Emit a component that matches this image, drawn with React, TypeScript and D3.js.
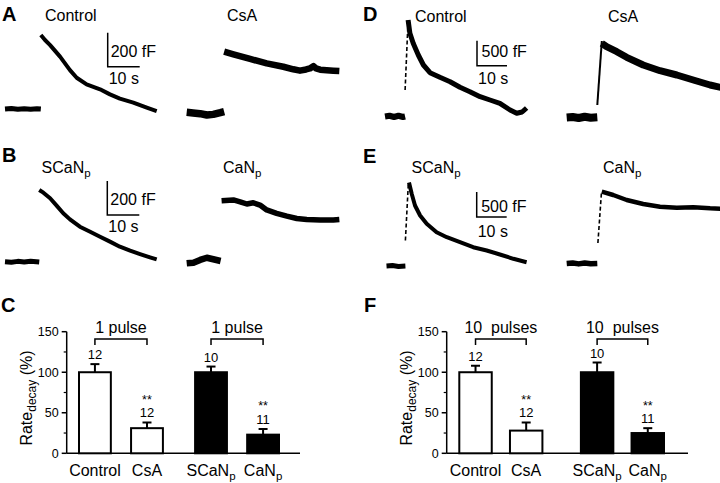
import React from "react";
import * as d3 from "d3";

// ---------- Capacitance traces: [time (s), ΔCm (fF)] ----------
// Panel A (1 pulse)
const aControlBase = [[0, 0], [2, 3], [4, -2], [6, 2], [8, -2], [10, 2], [11.2, 0]];
const aControlDecay = [[11.2, 435], [12.5, 406], [14.1, 376], [17.2, 308], [20.3, 229], [22.4, 184], [25.5, 145], [29.7, 116], [32.8, 86], [35.9, 61], [40.1, 37], [44.3, 8], [47.4, -12]];
const aCsABase = [[0, 4], [2, 0], [4.2, -4], [6.3, -12], [8.3, -8], [10.5, 2], [11.7, 8]];
const aCsADecay = [[11.7, 361], [14.6, 345], [19.8, 318], [25, 292], [30.2, 272], [33.3, 257], [35.4, 249], [37.3, 256], [38.5, 262], [39.6, 276], [40.4, 262], [41.7, 255], [45.8, 249], [47.7, 247]];
// Panel B (1 pulse)
const bSCaNBase = [[0, 0], [2, -3], [4, 2], [6, -2], [8, 3], [10.7, -2]];
const bSCaNDecay = [[10.7, 422], [12, 406], [14.1, 373], [16.2, 328], [18.2, 285], [20.3, 249], [23.4, 206], [26.6, 176], [29.7, 147], [32.8, 118], [35.9, 88], [39.1, 65], [42.2, 45], [45.3, 26], [47.4, 14]];
const bCaNBase = [[0, -2], [2.1, 2], [4.2, 18], [6.3, 31], [8.3, 22], [10.6, 12]];
const bCaNDecay = [[10.9, 366], [14.6, 371], [16.7, 360], [18.8, 347], [20.8, 354], [22.9, 341], [25, 312], [28.1, 292], [31.3, 276], [34.4, 262], [37.5, 256], [41.7, 253], [45.8, 253], [47.7, 256]];
// Panel D (10 pulses)
const dControlBase = [[0, 0], [1.5, 15], [3, -10], [4.5, 15], [6, -10], [6.7, 0]];
const dControlJump = [[6.7, 530], [7.7, 1930]];
const dControlDecay = [[7.7, 1930], [8.3, 1664], [9.4, 1464], [11.1, 1230], [12.8, 1030], [15, 876], [18.3, 784], [21.7, 696], [25, 584], [28.3, 496], [31.7, 396], [35, 330], [38.3, 264], [41.7, 130], [43.9, 64], [45.7, 90], [47.2, 170]];
const dCsABase = [[0, 0], [2, 10], [4, -10], [6, 15], [8, -5], [10.2, 5]];
const dCsAJump = [[10.2, 250], [11.7, 1530]];
const dCsADecay = [[11.7, 1484], [13.3, 1416], [16.7, 1316], [20, 1204], [25.5, 1050], [31.1, 936], [36.7, 850], [42.2, 750], [47.8, 650], [51.5, 600]];
// Panel E (10 pulses)
const eSCaNBase = [[0, 0], [2, 8], [4, -8], [6.3, 0]];
const eSCaNJump = [[6.3, 510], [7.3, 1670]];
const eSCaNDecay = [[7.5, 1670], [8.4, 1444], [9.5, 1210], [11.2, 1010], [13.4, 844], [16.7, 676], [20.1, 576], [24.5, 476], [28.9, 376], [33.4, 310], [37.8, 230], [42.3, 144], [46.7, 76]];
const eCaNBase = [[0, 0], [2, 10], [4, -8], [6, 10], [8, -6], [10.2, 0]];
const eCaNJump = [[10.4, 410], [11.6, 1436]];
const eCaNDecay = [[11.7, 1436], [15.5, 1370], [20, 1270], [25.5, 1190], [31.1, 1136], [36.7, 1116], [42.2, 1124], [47.8, 1104], [51.5, 1096]];

// ---------- Bar charts ----------
const barMain = ["Control", "CsA", "SCaN", "CaN"];
const barSub = ["", "", "p", "p"];
const barGroup = ["g1", "g1", "g2", "g2"];
const barSlot = ["a", "b", "a", "b"];
const barFill = ["#fff", "#fff", "#000", "#000"];
const nCells = ["12", "12", "10", "11"];
const signif = ["", "**", "", "**"];
const rate1Pulse = [100, 31, 100, 23];
const sem1Pulse = [10, 7, 7, 7];
const rate10Pulse = [100, 28, 100, 25];
const sem10Pulse = [8, 10, 12, 6];
const yMajorTicks = [0, 50, 100, 150];
const yMinorTicks = [25, 75, 125];

const FONT = "'Liberation Sans', Arial, Helvetica, sans-serif";

type Pt = number[];

function Trace({ base, decay, jump, dashed, x0, y0, sx, sy, sw }: any) {
  const x = d3.scaleLinear().domain([0, 10]).range([x0, x0 + 10 * sx]);
  const y = d3.scaleLinear().domain([0, 500]).range([y0, y0 - 500 * sy]);
  const line = d3.line<Pt>().x((d) => x(d[0])).y((d) => y(d[1]));
  return (
    <g fill="none" stroke="#000" strokeLinejoin="round" strokeLinecap="butt">
      <path d={line(base) || ""} strokeWidth={sw + 1} />
      {jump && (
        <path d={line(jump) || ""} strokeWidth={dashed ? 1.6 : 2} strokeDasharray={dashed ? "4 2.5" : undefined} />
      )}
      <path d={line(decay) || ""} strokeWidth={sw} />
    </g>
  );
}

function ScaleBar({ x, yb, sx, sy, cLen, label, tdx, tdy, sdy }: any) {
  const xs = d3.scaleLinear().domain([0, 10]).range([x, x + 10 * sx]);
  const ys = d3.scaleLinear().domain([0, cLen]).range([yb, yb - cLen * sy]);
  return (
    <g>
      <path d={`M${xs(0)},${ys(cLen)}V${ys(0)}H${xs(10)}`} fill="none" stroke="#000" strokeWidth={1.5} />
      <text x={x + tdx} y={yb + tdy} fontSize={16}>{label}</text>
      <text x={x + 1} y={yb + sdy} fontSize={16}>10 s</text>
    </g>
  );
}

function Lab({ x, y, main, sub, size = 16 }: any) {
  return (
    <text x={x} y={y} fontSize={size}>
      {main}
      {sub && <tspan fontSize={size * 0.72} dy={4}>{sub}</tspan>}
    </text>
  );
}

function BarPanel({ axisX, axisEnd, groupRange, outerPad, innerPad, values, sems, bracket }: any) {
  const y = d3.scaleLinear().domain([0, 150]).range([453.3, 331.7]);
  const outer = d3.scaleBand().domain(["g1", "g2"]).range(groupRange).paddingInner(outerPad);
  const inner = d3.scaleBand().domain(["a", "b"]).range([0, outer.bandwidth()]).paddingInner(innerPad);
  const bx = (i: number) => (outer(barGroup[i]) as number) + (inner(barSlot[i]) as number);
  const bw = inner.bandwidth();
  const cx = (i: number) => bx(i) + bw / 2;
  const brY = 339;
  return (
    <g>
      <line x1={axisX} x2={axisX} y1={y(150)} y2={y(0)} stroke="#000" strokeWidth={1.5} />
      <line x1={axisX} x2={axisEnd} y1={y(0)} y2={y(0)} stroke="#000" strokeWidth={1.5} />
      {yMajorTicks.map((t) => (
        <g key={t}>
          <line x1={axisX - 5} x2={axisX} y1={y(t)} y2={y(t)} stroke="#000" strokeWidth={1.5} />
          <text x={axisX - 8} y={y(t)} dy="0.36em" textAnchor="end" fontSize={12.5}>{t}</text>
        </g>
      ))}
      {yMinorTicks.map((t) => (
        <line key={t} x1={axisX - 3} x2={axisX} y1={y(t)} y2={y(t)} stroke="#000" strokeWidth={1.2} />
      ))}
      {values.map((v: number, i: number) => (
        <g key={i}>
          <line x1={cx(i)} x2={cx(i)} y1={y(v)} y2={y(v + sems[i])} stroke="#000" strokeWidth={2} />
          <line x1={cx(i) - 4.5} x2={cx(i) + 4.5} y1={y(v + sems[i])} y2={y(v + sems[i])} stroke="#000" strokeWidth={2} />
          <rect x={bx(i) + 1} y={y(v)} width={bw - 2} height={y(0) - y(v)} fill={barFill[i]} stroke="#000" strokeWidth={2} />
          <text x={cx(i)} y={y(v + sems[i]) - 5} textAnchor="middle" fontSize={13}>{nCells[i]}</text>
          {signif[i] && (
            <text x={cx(i)} y={y(v + sems[i]) - 18.5} textAnchor="middle" fontSize={12.5}>{signif[i]}</text>
          )}
          <text x={cx(i)} y={476} textAnchor="middle" fontSize={16}>
            {barMain[i]}
            {barSub[i] && <tspan fontSize={11.5} dy={4}>{barSub[i]}</tspan>}
          </text>
        </g>
      ))}
      {[[0, 1], [2, 3]].map(([a, b]) => (
        <g key={a}>
          <path d={`M${cx(a)},${brY + 6}V${brY}H${cx(b)}V${brY + 6}`} fill="none" stroke="#000" strokeWidth={1.5} />
          <text x={(cx(a) + cx(b)) / 2} y={333} textAnchor="middle" fontSize={16} style={{ whiteSpace: "pre" }}>{bracket}</text>
        </g>
      ))}
      <text transform={`translate(${axisX - 35},398) rotate(-90)`} textAnchor="middle" fontSize={16}>
        Rate<tspan fontSize={12} dy={4}>decay</tspan><tspan dy={-4}> (%)</tspan>
      </text>
    </g>
  );
}

export default function App() {
  const letters = [
    ["A", 2, 21], ["B", 2, 162], ["C", 1, 312],
    ["D", 363, 21], ["E", 363, 163], ["F", 364, 312],
  ];
  return (
    <svg width={720} height={483} style={{ position: "absolute", left: 0, top: 0, background: "#fff" }} fontFamily={FONT}>
      <rect width={720} height={483} fill="#fff" />
      {letters.map(([l, x, y]) => (
        <text key={l as string} x={x as number} y={y as number} fontSize={20} fontWeight="bold">{l}</text>
      ))}
      <Lab x={45} y={21} main="Control" />
      <Lab x={227} y={21} main="CsA" />
      <Lab x={41.5} y={173} main="SCaN" sub="p" />
      <Lab x={223} y={173} main="CaN" sub="p" />
      <Lab x={415} y={21.5} main="Control" />
      <Lab x={608} y={21.5} main="CsA" />
      <Lab x={411.5} y={173} main="SCaN" sub="p" />
      <Lab x={603} y={173} main="CaN" sub="p" />

      <ScaleBar x={107.7} yb={66.7} sx={3.2} sy={0.17} cLen={200} label="200 fF" tdx={3} tdy={-10} sdy={17.5} />
      <ScaleBar x={107.3} yb={215} sx={3.2} sy={0.17} cLen={200} label="200 fF" tdx={3} tdy={-10} sdy={17} />
      <ScaleBar x={477} yb={65.7} sx={3.0} sy={0.05} cLen={500} label="500 fF" tdx={4.5} tdy={-8.4} sdy={18.3} />
      <ScaleBar x={476.7} yb={217} sx={3.0} sy={0.05} cLen={500} label="500 fF" tdx={4.5} tdy={-5} sdy={19.5} />

      <Trace base={aControlBase} decay={aControlDecay} x0={5} y0={109} sx={3.2} sy={0.17} sw={4} />
      <Trace base={aCsABase} decay={aCsADecay} x0={186.7} y0={113} sx={3.2} sy={0.17} sw={6.5} />
      <Trace base={bSCaNBase} decay={bSCaNDecay} x0={5} y0={261.7} sx={3.2} sy={0.17} sw={4} />
      <Trace base={bCaNBase} decay={bCaNDecay} x0={186.7} y0={263} sx={3.2} sy={0.17} sw={5.5} />
      <Trace base={dControlBase} jump={dControlJump} dashed decay={dControlDecay} x0={385} y0={116.5} sx={3.0} sy={0.05} sw={5} />
      <Trace base={dCsABase} jump={dCsAJump} decay={dCsADecay} x0={566.7} y0={117.5} sx={3.0} sy={0.05} sw={7} />
      <Trace base={eSCaNBase} jump={eSCaNJump} dashed decay={eSCaNDecay} x0={386.5} y0={266} sx={3.0} sy={0.05} sw={4} />
      <Trace base={eCaNBase} jump={eCaNJump} dashed decay={eCaNDecay} x0={566.7} y0={263.5} sx={3.0} sy={0.05} sw={4.5} />

      <BarPanel axisX={66.7} axisEnd={300} groupRange={[78, 280]} outerPad={0.26} innerPad={0.35}
        values={rate1Pulse} sems={sem1Pulse} bracket="1 pulse" />
      <BarPanel axisX={446.7} axisEnd={688} groupRange={[458.3, 665]} outerPad={0.3} innerPad={0.32}
        values={rate10Pulse} sems={sem10Pulse} bracket="10  pulses" />
    </svg>
  );
}
